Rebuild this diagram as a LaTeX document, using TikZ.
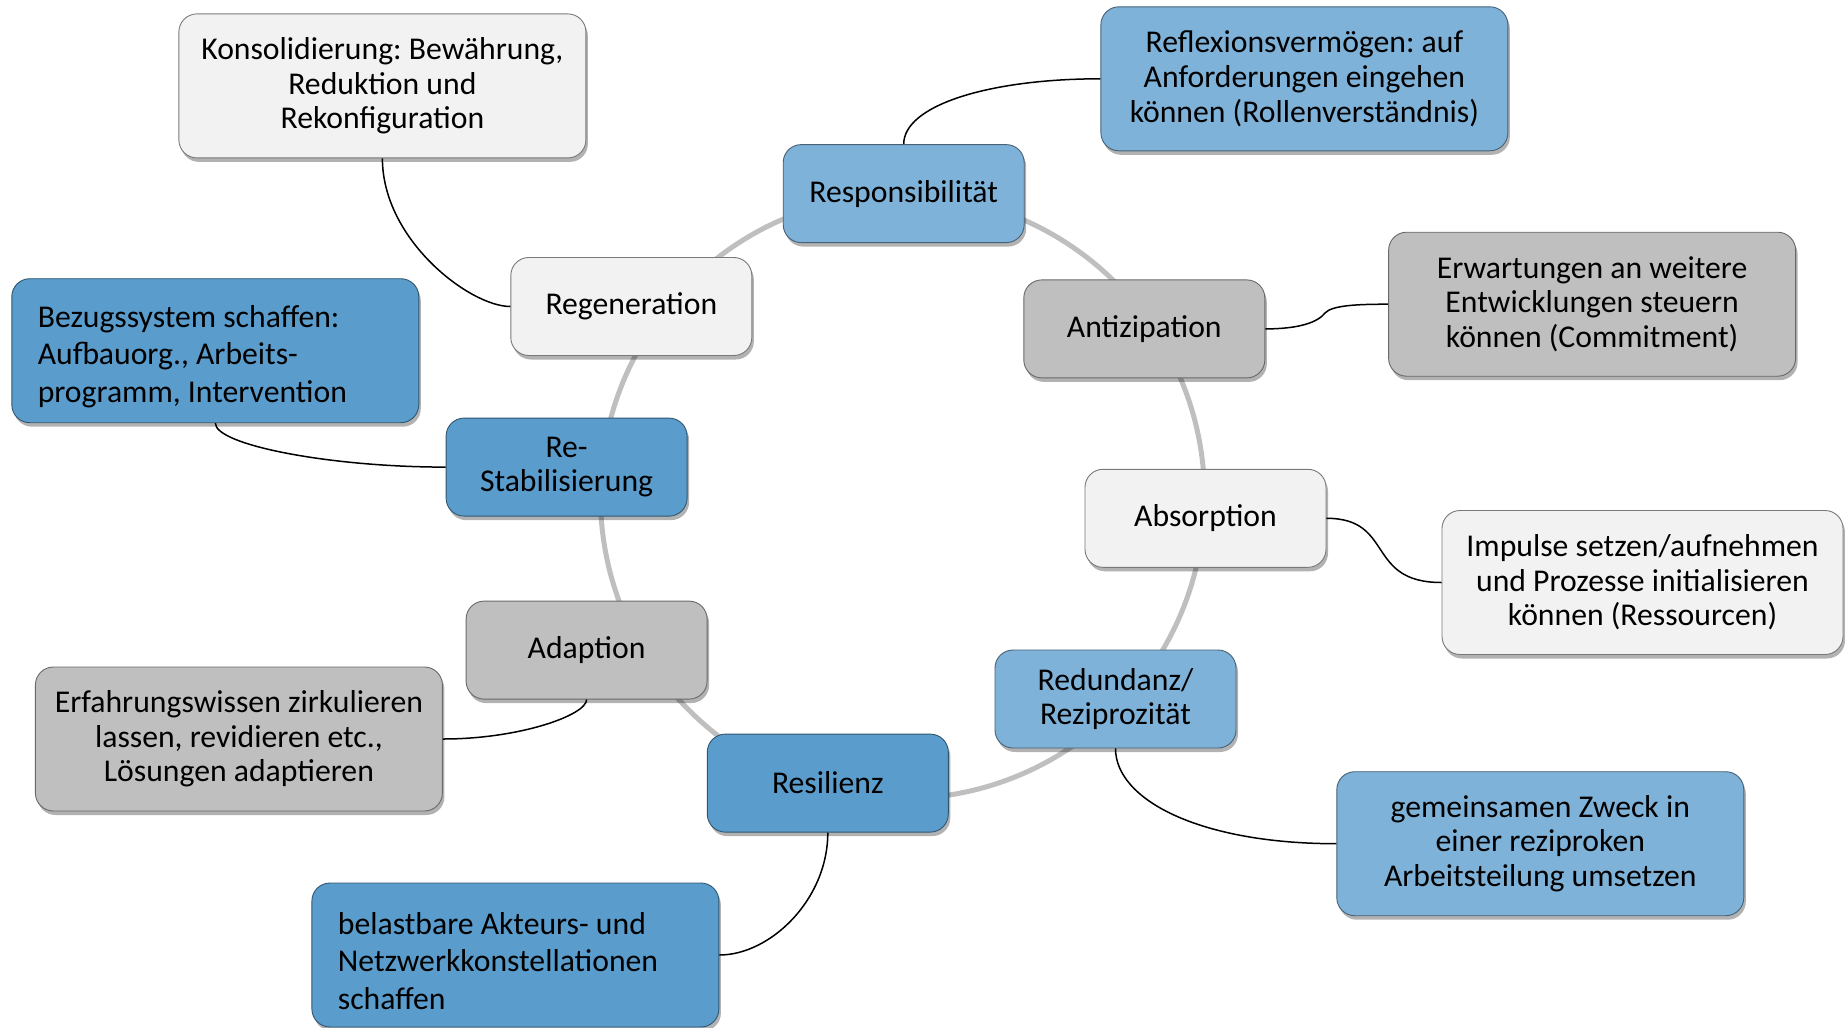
\documentclass[tikz,border=0pt]{standalone}
\usepackage{fontspec}
\setmainfont{Carlito}
\usetikzlibrary{shadows}
\definecolor{lblue}{RGB}{127,178,217}
\definecolor{dblue}{RGB}{90,156,204}
\definecolor{mgray}{RGB}{191,191,191}
\definecolor{lgray}{RGB}{242,242,242}
\definecolor{ringgray}{RGB}{191,191,191}
\frenchspacing
\begin{document}
\begin{tikzpicture}[x=1pt,y=-1pt,
  basebox/.style={rounded corners=18pt, line width=0.9pt, inner sep=0pt, align=center,
    font=\fontsize{31.7}{34.6}\selectfont\frenchspacing,
    drop shadow={shadow xshift=2pt,shadow yshift=-4pt,opacity=0.3,fill=black}},
  small/.style={basebox, minimum width=241pt, minimum height=98pt},
  big/.style={basebox, minimum width=407pt, minimum height=144pt},
  leftbig/.style={basebox, minimum height=144pt, text width=355pt, inner xsep=26pt,
    align=flush left, font=\fontsize{31.7}{37.7}\selectfont\frenchspacing,
    execute at begin node={\rule{0pt}{34pt}}},
  cl/.style={fill=lblue, draw=lblue!55!black},
  cd/.style={fill=dblue, draw=dblue!55!black},
  cg/.style={fill=mgray, draw=mgray!55!black},
  cw/.style={fill=lgray, draw=lgray!50!black},
  link/.style={draw=black, line width=1.5pt},
  ringline/.style={draw=ringgray, line width=5pt}
]
\useasboundingbox (0,0) rectangle (1845,1028);
\fill[white] (0,0) rectangle (1845,1028);

% ring
\node[circle, ringline, minimum size=604pt, inner sep=0pt] (ring) at (902.5,496.6) {};

% main nodes
\node[small, cl] (resp) at (903.7,193.6) {Responsibilität};
\node[small, cw] (regen) at (631.3,306.5) {Regeneration};
\node[small, cg] (anti) at (1144.3,328.9) {Antizipation};
\node[small, cd] (restab) at (566.6,467.1) {Re-\\Stabilisierung};
\node[small, cw] (abs) at (1205.5,518.3) {Absorption};
\node[small, cg] (adap) at (586.6,650.1) {Adaption};
\node[small, cd] (resil) at (827.8,783.1) {Resilienz};
\node[small, cl] (redun) at (1115.5,699.0) {Redundanz/\\Reziprozität};

% outer boxes
\node[big, cw] (kons) at (382.4,85.9) {Konsolidierung: Bewährung,\\Reduktion und\\Rekonfiguration};
\node[big, cl] (refl) at (1304.4,78.8) {Reflexionsvermögen: auf\\Anforderungen eingehen\\können (Rollenverständnis)};
\node[big, cg] (erw) at (1592.1,304.2) {Erwartungen an weitere\\Entwicklungen steuern\\können (Commitment)};
\node[leftbig, cd] (bez) at (215.3,350.7) {Bezugssystem schaffen:\\Aufbauorg., Arbeits-\\programm, Intervention};
\node[big, cw, minimum width=401pt] (imp) at (1642.5,582.5) {Impulse setzen/aufnehmen\\und Prozesse initialisieren\\können (Ressourcen)};
\node[big, cg] (erf) at (238.9,739.0) {Erfahrungswissen zirkulieren\\lassen, revidieren etc.,\\Lösungen adaptieren};
\node[big, cl] (gem) at (1540.3,843.7) {gemeinsamen Zweck in\\einer reziproken\\Arbeitsteilung umsetzen};
\node[leftbig, cd] (bel) at (515.4,955) {belastbare Akteurs- und\\Netzwerkkonstellationen\\schaffen};

% connectors
\draw[link] (kons.south) .. controls (382.4,240) and (470,306.5) .. (regen.west);
\draw[link] (resp.north) .. controls (903.7,105) and (990,78.8) .. (refl.west);
\draw[link] (anti.east) .. controls (1300,328.9) and (1318,322) .. (1325,313) .. controls (1332,305) and (1360,304.2) .. (erw.west);
\draw[link] (bez.south) .. controls (215.3,445) and (330,467.1) .. (restab.west);
\draw[link] (abs.east) .. controls (1395,518.3) and (1365,582.5) .. (imp.west);
\draw[link] (adap.south) .. controls (586.6,715) and (520,739) .. (erf.east);
\draw[link] (resil.south) .. controls (827.8,900) and (770,955) .. (bel.east);
\draw[link] (redun.south) .. controls (1115.5,800) and (1200,843.7) .. (gem.west);
\end{tikzpicture}
\end{document}
